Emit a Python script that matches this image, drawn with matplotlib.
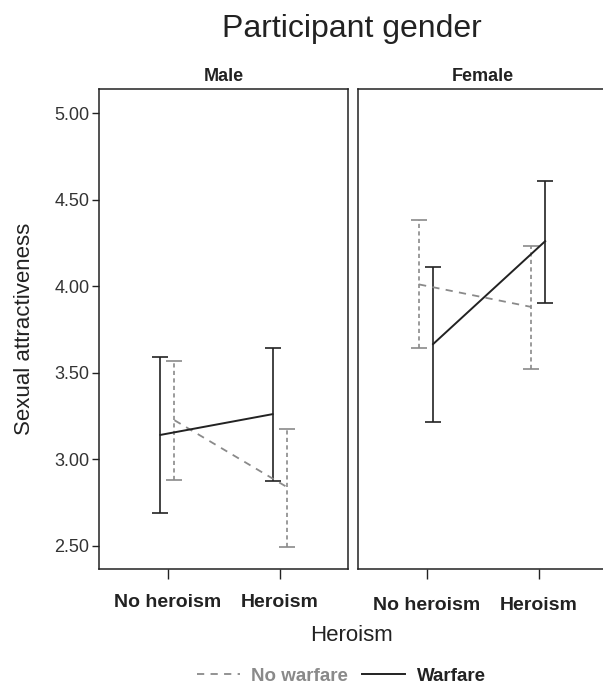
import matplotlib.pyplot as plt
from matplotlib.lines import Line2D

plt.rcParams["font.family"] = ["Liberation Sans", "DejaVu Sans"]

TEXT = "#222222"
GREY = "#8a8a8a"

conditions = ["No heroism", "Heroism"]
panels = ["Male", "Female"]

# means and 95% CI bounds, per panel: [no heroism, heroism]
warfare_mean = {"Male": [3.14, 3.26], "Female": [3.665, 4.26]}
warfare_low = {"Male": [2.69, 2.875], "Female": [3.215, 3.90]}
warfare_high = {"Male": [3.59, 3.64], "Female": [4.11, 4.61]}

nowar_mean = {"Male": [3.225, 2.84], "Female": [4.01, 3.88]}
nowar_low = {"Male": [2.88, 2.49], "Female": [3.64, 3.52]}
nowar_high = {"Male": [3.57, 3.175], "Female": [4.38, 4.23]}

# horizontal dodge of the two series in each panel
offsets = {"Male": (-0.067, 0.058), "Female": (0.055, -0.07)}

fig = plt.figure(figsize=(6.03, 6.87), dpi=100)
ax_pos = {"Male": [0.1642, 0.1718, 0.413, 0.6987],
          "Female": [0.5937, 0.1718, 0.413, 0.6987]}


def draw_series(ax, xs, mean, low, high, color, ls, lw, dashes=None):
    err = [[m - l for m, l in zip(mean, low)], [h - m for m, h in zip(mean, high)]]
    line, caps, bars = ax.errorbar(xs, mean, yerr=err, color=color, lw=lw,
                                   elinewidth=1.2, capsize=5.5, capthick=1.2,
                                   linestyle=ls)
    if dashes is not None:
        line.set_dashes(dashes)
        for b in bars:
            b.set_linestyle((0, (2.5, 2)))


for name in panels:
    ax = fig.add_axes(ax_pos[name])
    off_w, off_n = offsets[name]
    xs_w = [i + off_w for i in range(2)]
    xs_n = [i + off_n for i in range(2)]
    draw_series(ax, xs_n, nowar_mean[name], nowar_low[name], nowar_high[name],
                GREY, "--", 1.3, dashes=(4, 3.5))
    draw_series(ax, xs_w, warfare_mean[name], warfare_low[name], warfare_high[name],
                TEXT, "-", 1.4)

    ax.set_xlim(-0.615, 1.607)
    ax.set_ylim(2.365, 5.14)
    ax.set_xticks([0, 1])
    ax.set_xticklabels(conditions, fontweight="bold", fontsize=14, color=TEXT)
    ax.tick_params(axis="x", length=7, width=1, color=TEXT, pad=11)
    for s in ax.spines.values():
        s.set_color(TEXT)
        s.set_linewidth(1.1)
    ax.set_title(name, fontweight="bold", fontsize=13, color=TEXT, pad=6)
    if name == "Male":
        ax.set_yticks([2.5, 3.0, 3.5, 4.0, 4.5, 5.0])
        ax.set_yticklabels([f"{v:.2f}" for v in [2.5, 3.0, 3.5, 4.0, 4.5, 5.0]],
                           fontsize=13, color="#333333")
        ax.tick_params(axis="y", length=5, width=1, color=TEXT, pad=2)
        ax.set_ylabel("Sexual attractiveness", fontsize=16, color=TEXT, labelpad=14)
    else:
        ax.set_yticks([])
        ax.tick_params(axis="x", pad=13)

fig.text(0.584, 0.958, "Participant gender", ha="center", va="center",
         fontsize=23, color=TEXT)
fig.text(0.583, 0.075, "Heroism", ha="center", va="center", fontsize=16, color=TEXT)

handles = [Line2D([], [], color=GREY, lw=1.3, ls=(0, (4, 3.5))),
           Line2D([], [], color=TEXT, lw=1.4)]
leg = fig.legend(handles, ["No warfare", "Warfare"], loc="center",
                 bbox_to_anchor=(0.566, 0.016), ncol=2, frameon=False,
                 handlelength=2.3, columnspacing=0.75, handletextpad=0.6,
                 prop={"weight": "bold", "size": 13.5})
leg.get_texts()[0].set_color(GREY)
leg.get_texts()[1].set_color(TEXT)

fig.savefig("out.png", dpi=100)
